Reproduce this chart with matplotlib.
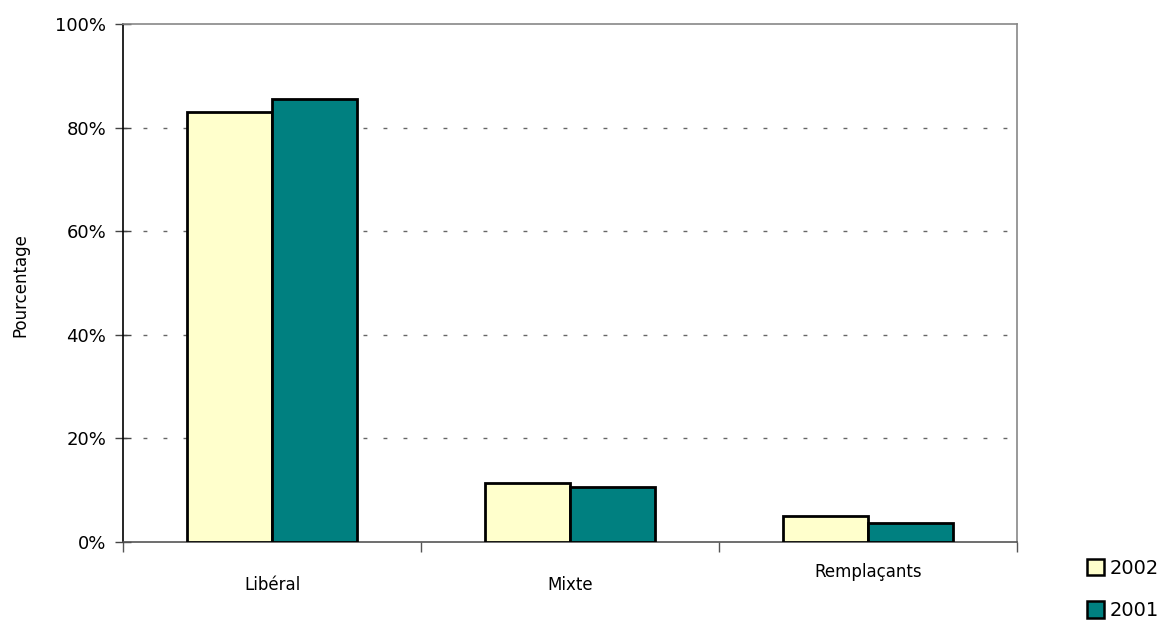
import numpy as np
import matplotlib.pyplot as plt
from matplotlib.patches import Patch

# Données
categories = ['Libéral', 'Mixte', 'Remplaçants']
valeurs_2002 = [83.0, 11.4, 5.0]
valeurs_2001 = [85.5, 10.6, 3.7]
ticks_y = [0, 20, 40, 60, 80, 100]

COULEUR_2002 = '#FFFFCC'
COULEUR_2001 = '#008080'

fig = plt.figure(figsize=(11.64, 6.2), dpi=100)
ax = fig.add_axes([123 / 1164, 1 - 542 / 620, (1017 - 123) / 1164, (542 - 24) / 620])

x = np.arange(len(categories))
largeur = 0.285
ax.bar(x - largeur / 2, valeurs_2002, largeur, color=COULEUR_2002,
       edgecolor='black', linewidth=2, zorder=3, label='2002')
ax.bar(x + largeur / 2, valeurs_2001, largeur, color=COULEUR_2001,
       edgecolor='black', linewidth=2, zorder=3, label='2001')

ax.set_xlim(-0.5, len(categories) - 0.5)
ax.set_ylim(0, 100)

# grille pointillée
for v in ticks_y[1:-1]:
    ax.axhline(v, color='#666666', linestyle=(0, (2.8, 11.6)), linewidth=1, zorder=1)

ax.set_yticks(ticks_y)
ax.set_yticklabels([f'{v}%' for v in ticks_y], fontsize=13)
ax.tick_params(axis='y', direction='inout', length=12, width=1, pad=6, color='#444444')

# ticks en x aux frontières des catégories
ax.set_xticks(np.arange(-0.5, len(categories), 1.0))
ax.set_xticklabels([])
ax.tick_params(axis='x', direction='out', length=7, width=1, color='#555555')
decalages = [-43, -43, -30]
for i, nom in enumerate(categories):
    ax.annotate(nom, xy=(i, 0), xycoords=('data', 'axes fraction'),
                xytext=(0, decalages[i]), textcoords='offset pixels',
                ha='center', va='center', fontsize=12)

ax.spines['left'].set_color('black')
ax.spines['bottom'].set_color('#555555')
ax.spines['top'].set_color('#888888')
ax.spines['right'].set_color('#888888')
for s in ax.spines.values():
    s.set_linewidth(1.2)

fig.text(20 / 1164, 1 - 285 / 620, 'Pourcentage', rotation=90,
         ha='center', va='center', fontsize=12)

poignees = [Patch(facecolor=COULEUR_2002, edgecolor='black', linewidth=1.8),
            Patch(facecolor=COULEUR_2001, edgecolor='black', linewidth=1.8)]
fig.legend(poignees, ['2002', '2001'], loc='center left',
           bbox_to_anchor=(1087 / 1164, 1 - 589.5 / 620), frameon=False,
           fontsize=14, handlelength=0.85, handleheight=0.9, borderpad=0,
           handletextpad=0.3, labelspacing=1.2, borderaxespad=0)

fig.savefig('out.png', dpi=100)
